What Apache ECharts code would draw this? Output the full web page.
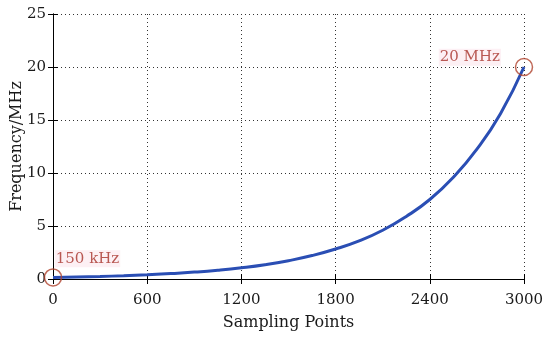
<!DOCTYPE html>
<html><head><meta charset="utf-8">
<script src="https://cdn.jsdelivr.net/npm/echarts@6/dist/echarts.min.js"></script>
<style>html,body{margin:0;padding:0;background:#fff}#c{width:550px;height:341px}</style>
</head><body><div id="c"></div>
<script>
const samplingPoints = [0,150,300,450,600,750,900,1050,1200,1350,1500,1650,1800,1950,2100,2250,2400,2550,2700,2850,3000];
const frequencyMHz = [0.15,0.19,0.24,0.31,0.40,0.51,0.65,0.83,1.06,1.35,1.73,2.21,2.83,3.6,4.6,5.9,7.5,9.6,12.25,15.6,20];
const markedPoints = [[0,0.15],[3000,20]];
const markedLabels = ['150 kHz','20 MHz'];
const xTicks = [0,600,1200,1800,2400,3000];
const yTicks = [0,5,10,15,20,25];

const FONT = 'DejaVu Serif';
const chart = echarts.init(document.getElementById('c'));
const axisBase = {
  axisLine:{show:true,lineStyle:{color:'#000',width:1}},
  axisTick:{show:true,inside:true,length:5,lineStyle:{color:'#000'}},
};
chart.setOption({
  animation:false,
  grid:{left:53,right:26,top:14,bottom:62,containLabel:false,outerBoundsMode:'none'},
  xAxis:[{
    type:'value',min:0,max:3000,interval:600,position:'bottom',
    ...axisBase,
    axisLabel:{fontFamily:FONT,fontSize:15,color:'#1a1a1a',margin:14,formatter:v=>String(v)},
    splitLine:{show:true,lineStyle:{type:[1,3],color:'#333'}},
    name:'Sampling Points',nameLocation:'middle',nameGap:36,nameMoveOverlap:false,
    nameTextStyle:{fontFamily:FONT,fontSize:16,color:'#1a1a1a'}
  },{
    type:'value',min:0,max:3000,interval:600,position:'top',
    ...axisBase,axisLabel:{show:false},splitLine:{show:false}
  }],
  yAxis:[{
    type:'value',min:0,max:25,interval:5,position:'left',
    ...axisBase,
    axisLabel:{fontFamily:FONT,fontSize:15,color:'#1a1a1a',margin:7,formatter:v=>String(v)},
    splitLine:{show:true,lineStyle:{type:[1,3],color:'#333'}},
    name:'Frequency/MHz',nameLocation:'middle',nameGap:28,nameMoveOverlap:false,
    nameTextStyle:{fontFamily:FONT,fontSize:16,color:'#1a1a1a'}
  },{
    type:'value',min:0,max:25,interval:5,position:'right',
    ...axisBase,axisLabel:{show:false},splitLine:{show:false}
  }],
  series:[{
    type:'line',
    data:samplingPoints.map((x,i)=>[x,frequencyMHz[i]]),
    smooth:true,showSymbol:false,
    lineStyle:{color:'#2a4eb4',width:3},
    z:3
  },{
    type:'scatter',
    data:markedPoints.map((p,i)=>({value:p,name:markedLabels[i],
      label:{position: i===0?[11,-18]:[-76,-9]}})),
    symbol:'circle',symbolSize:17,
    itemStyle:{color:'rgba(0,0,0,0)',borderColor:'#b0442e',borderWidth:1.5},
    label:{show:true,formatter:p=>p.name,fontFamily:FONT,fontSize:15,color:'#a8322a',
      backgroundColor:'#fdecf1',padding:[1,1]},
    z:4
  }]
});
</script></body></html>
